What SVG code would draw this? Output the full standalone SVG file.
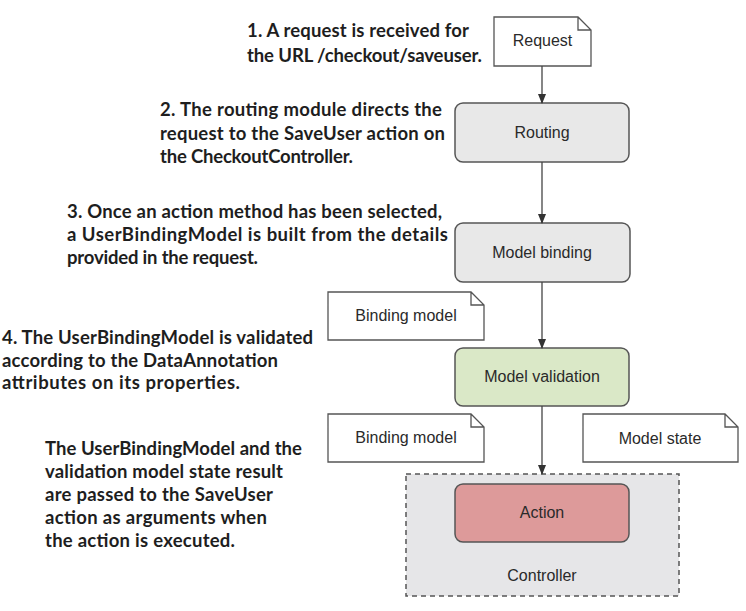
<svg xmlns="http://www.w3.org/2000/svg" width="746" height="611" viewBox="0 0 746 611">
<style>
.note{fill:#ffffff;stroke:#555555;stroke-width:1.3}
.box{stroke:#555555;stroke-width:1.5}
.lbl{font-family:"Liberation Sans",Arial,sans-serif;font-size:16px;fill:#2a2a2a;text-anchor:middle}
.ann{font-family:Lato,"Open Sans",sans-serif;font-weight:bold;font-size:18.5px;fill:#1e1e1e}
.conn{stroke:#444444;stroke-width:1.3;fill:none;marker-end:url(#arr)}
</style>
<defs>
<marker id="arr" markerWidth="10" markerHeight="12" refX="9" refY="5" orient="auto" markerUnits="userSpaceOnUse">
<path d="M0,1 L10,5 L0,9 Z" fill="#333333"/>
</marker>
</defs>
<rect width="746" height="611" fill="#ffffff"/>

<g id="annotations">
<text class="ann" x="247" y="36.5" textLength="222" lengthAdjust="spacing">1. A request is received for</text>
<text class="ann" x="247" y="61.5" textLength="235" lengthAdjust="spacing">the URL /checkout/saveuser.</text>
<text class="ann" x="160" y="116" textLength="282" lengthAdjust="spacing">2. The routing module directs the</text>
<text class="ann" x="160" y="140" textLength="285" lengthAdjust="spacing">request to the SaveUser action on</text>
<text class="ann" x="160" y="163" textLength="193" lengthAdjust="spacing">the CheckoutController.</text>
<text class="ann" x="67" y="217.5" textLength="375" lengthAdjust="spacing">3. Once an action method has been selected,</text>
<text class="ann" x="67" y="240.5" textLength="381" lengthAdjust="spacing">a UserBindingModel is built from the details</text>
<text class="ann" x="67" y="263.5" textLength="191" lengthAdjust="spacing">provided in the request.</text>
<text class="ann" x="2" y="344" textLength="311" lengthAdjust="spacing">4. The UserBindingModel is validated</text>
<text class="ann" x="2" y="366.5" textLength="276" lengthAdjust="spacing">according to the DataAnnotation</text>
<text class="ann" x="2" y="389" textLength="238" lengthAdjust="spacing">attributes on its properties.</text>
<text class="ann" x="45" y="454.5" textLength="257" lengthAdjust="spacing">The UserBindingModel and the</text>
<text class="ann" x="45" y="477.5" textLength="238" lengthAdjust="spacing">validation model state result</text>
<text class="ann" x="45" y="500.5" textLength="228" lengthAdjust="spacing">are passed to the SaveUser</text>
<text class="ann" x="45" y="523.5" textLength="222" lengthAdjust="spacing">action as arguments when</text>
<text class="ann" x="45" y="546.5" textLength="190" lengthAdjust="spacing">the action is executed.</text>
</g>

<g id="controller">
<rect x="406" y="474" width="273" height="122" fill="#e6e6e8" stroke="#555555" stroke-width="1.5" stroke-dasharray="5,4"/>
<text class="lbl" x="542" y="581">Controller</text>
</g>

<g id="request">
<path class="note" d="M494,17 H578 L591,30 V66 H494 Z M578,17 V30 H591"/>
<text class="lbl" x="542.5" y="46">Request</text>
</g>

<g id="routing">
<rect class="box" x="455" y="103" width="174" height="59" rx="8" fill="#e8e8e8"/>
<text class="lbl" x="542" y="137.5">Routing</text>
</g>

<g id="model-binding">
<rect class="box" x="455" y="223" width="175" height="59" rx="8" fill="#e8e8e8"/>
<text class="lbl" x="542" y="257.5">Model binding</text>
</g>

<g id="binding-model-1">
<path class="note" d="M328,292 H471 L484,305 V340 H328 Z M471,292 V305 H484"/>
<text class="lbl" x="406" y="321">Binding model</text>
</g>

<g id="model-validation">
<rect class="box" x="455" y="348" width="174" height="58" rx="8" fill="#dae8c7"/>
<text class="lbl" x="542" y="382">Model validation</text>
</g>

<g id="binding-model-2">
<path class="note" d="M328,414 H471 L484,427 V462 H328 Z M471,414 V427 H484"/>
<text class="lbl" x="406" y="443">Binding model</text>
</g>

<g id="model-state">
<path class="note" d="M583,414 H725 L738,427 V462 H583 Z M725,414 V427 H738"/>
<text class="lbl" x="660" y="443.5">Model state</text>
</g>

<g id="action">
<rect class="box" x="455" y="484" width="174" height="58" rx="8" fill="#dd9a9a"/>
<text class="lbl" x="542" y="518">Action</text>
</g>

<g id="connectors">
<line class="conn" x1="542" y1="66" x2="542" y2="103"/>
<line class="conn" x1="542" y1="162" x2="542" y2="223"/>
<line class="conn" x1="542" y1="282" x2="542" y2="348"/>
<line class="conn" x1="542" y1="406" x2="542" y2="474"/>
</g>
</svg>
